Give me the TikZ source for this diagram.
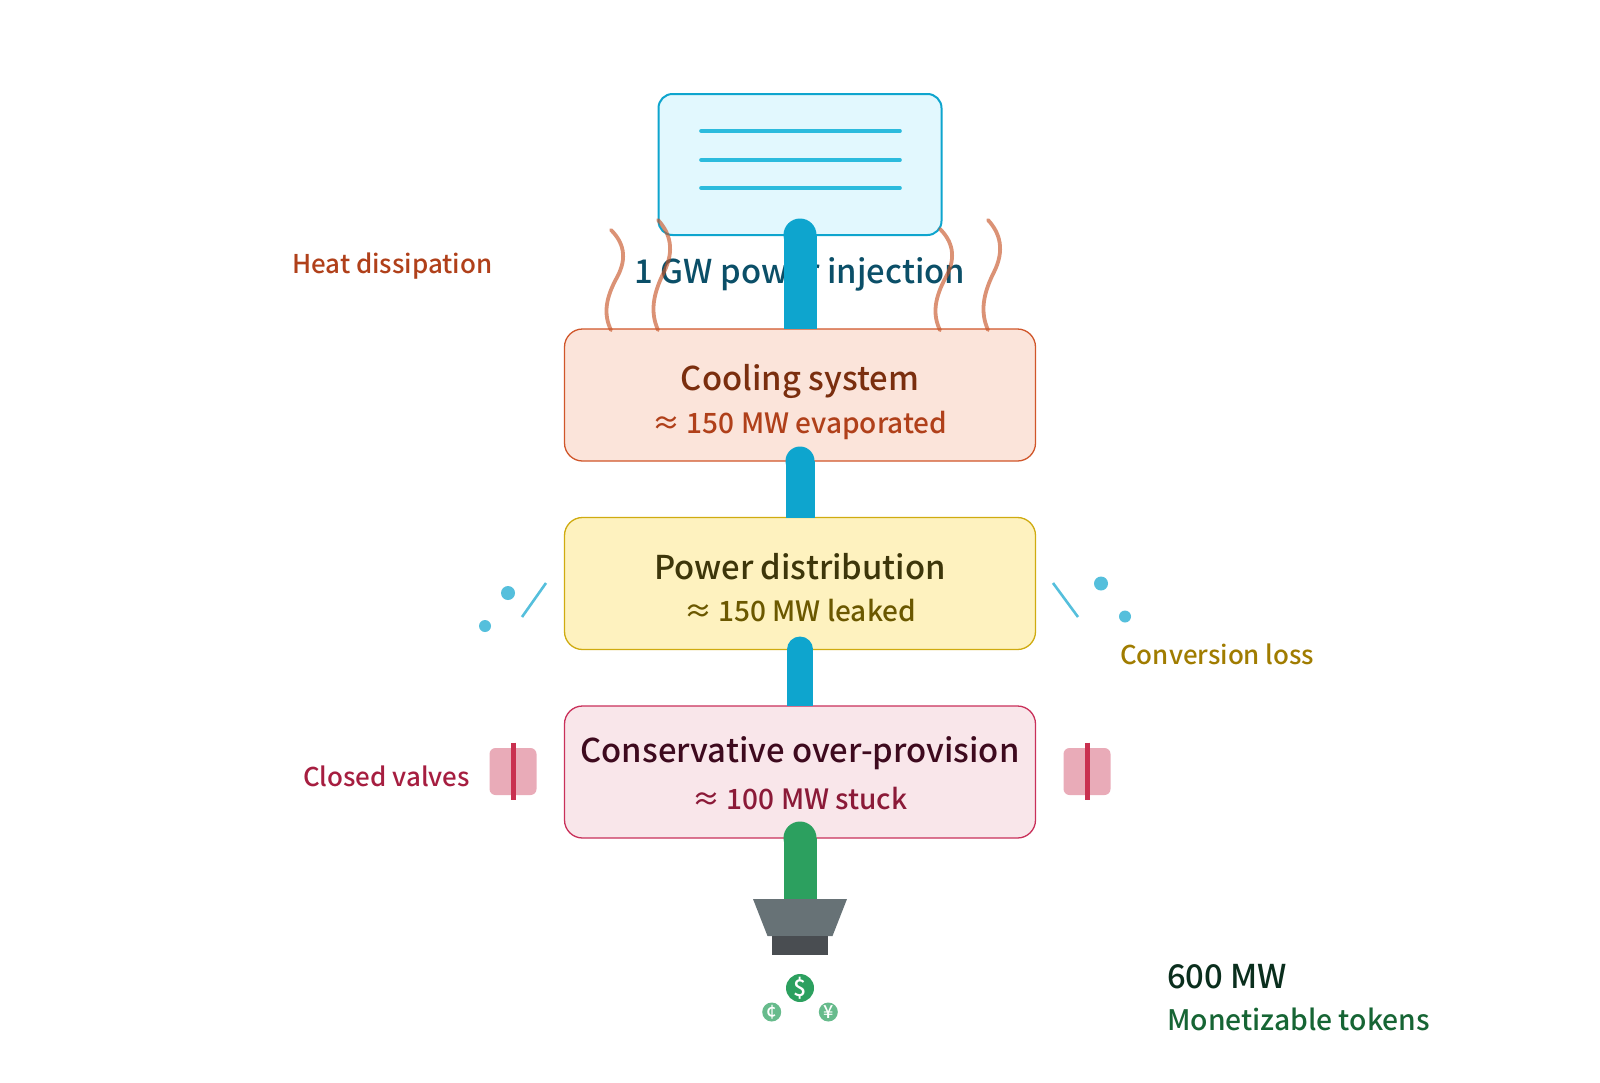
\documentclass[tikz,border=0pt]{standalone}
\usepackage{fontspec}
\setmainfont{Noto Sans CJK SC Medium}
\newfontfamily\medfont{Noto Sans CJK SC Medium}
\usetikzlibrary{positioning}
\definecolor{pipeblue}{HTML}{0EA5CE}
\definecolor{pipegreen}{HTML}{2CA05F}
\definecolor{leakblue}{HTML}{55BFDC}
\definecolor{heatline}{HTML}{C8572B}
\definecolor{valvepink}{HTML}{E9ABB8}
\definecolor{valvered}{HTML}{C93050}

\begin{document}
\begin{tikzpicture}[
        x=1pt, y=-1pt,
        stage/.style={
            rectangle,
            draw,
            rounded corners=18pt,
            minimum width=471pt,
            minimum height=132pt,
            outer sep=0pt,
            line width=1.3pt
        },
        stagetitle/.style={
            font=\fontsize{32.8}{36}\selectfont\medfont,
            inner sep=0pt
        },
        stagesub/.style={
            font=\fontsize{28}{32}\selectfont,
            inner sep=0pt
        },
        sidelabel/.style={
            font=\fontsize{25.9}{30}\selectfont,
            inner sep=0pt
        },
        pipe/.style={
            line width=#1
        },
        slat/.style={
            draw={rgb,255:red,44;green,187;blue,221},
            line width=3.6pt,
            line cap=round
        },
        heat/.style={
            draw=heatline,
            draw opacity=.65,
            line width=3.8pt,
            line cap=round
        },
        leak/.style={
            draw=leakblue,
            line width=2.6pt
        },
        drop/.style={
            circle,
            fill=leakblue,
            inner sep=0pt,
            minimum size=#1
        },
        valve/.style={
            rectangle,
            fill=valvepink,
            rounded corners=6pt,
            minimum size=47pt,
            outer sep=0pt
        },
        valvebar/.style={
            draw=valvered,
            line width=5pt
        },
        coin/.style={
            circle,
            text=white,
            inner sep=0pt,
            font=\fontsize{#1}{#1}\selectfont\medfont
        }
    ]
    \useasboundingbox (0,0) rectangle (1600,1082);

    % Injection panel
    \node[rectangle, draw=pipeblue, fill={rgb,255:red,226;green,248;blue,254}, rounded corners=14pt, line width=2pt,
          minimum width=283pt, minimum height=141pt, outer sep=0pt] (inject) at (800,164.5) {};
    \foreach \y in {131,160,188}
        \draw[slat] (701,\y) -- (900,\y);
    \node[font=\fontsize{32.8}{36}\selectfont\medfont, text={rgb,255:red,11;green,79;blue,104}, inner sep=0pt] (injectlabel) at (800,274) {1 GW power injection};

    % Stages (top to bottom)
    \node[stage, draw={rgb,255:red,208;green,86;blue,42}, fill={rgb,255:red,251;green,228;blue,218}] (cooling) at (800,395) {};
    \node[stage, draw={rgb,255:red,207;green,171;blue,16}, fill={rgb,255:red,254;green,242;blue,191}, below=56.5pt of cooling] (power) {};
    \node[stage, draw={rgb,255:red,201;green,48;blue,90}, fill={rgb,255:red,249;green,230;blue,234}, below=56.5pt of power] (provision) {};

    % Texts inside the stages
    \node[stagetitle, text={rgb,255:red,122;green,46;blue,14}] (coolingtitle) at (800,381.5) {Cooling system};
    \node[stagesub, text={rgb,255:red,176;green,64;blue,26}] (coolingsub) at (800,425) {≈ 150 MW evaporated};
    \node[stagetitle, text={rgb,255:red,61;green,54;blue,10}] (powertitle) at (800,567) {Power distribution};
    \node[stagesub, text={rgb,255:red,107;green,88;blue,0}] (powersub) at (800,611) {≈ 150 MW leaked};
    \node[stagetitle, text={rgb,255:red,62;green,10;blue,30}] (provisiontitle) at (800,753) {Conservative over-provision};
    \node[stagesub, text={rgb,255:red,139;green,26;blue,56}] (provisionsub) at (800,799) {≈ 100 MW stuck};

    % Pipes
    \draw[pipe=33pt, pipeblue] (inject.south) -- (cooling.north);
    \fill[pipeblue] (inject.south) circle (16.5pt);
    \draw[pipe=29pt, pipeblue] (cooling.south) -- (power.north);
    \fill[pipeblue] (cooling.south) circle (14.5pt);
    \draw[pipe=26pt, pipeblue] (power.south) -- (provision.north);
    \fill[pipeblue] (power.south) circle (13pt);

    % Heat
    \foreach \x/\t/\s in {611/230/.91, 658/220/1, 940/229/.92, 988/220/1}
        \draw[heat, shift={(\x,\t)}, yscale=\s] (0,0) .. controls (12,13) and (17,30) .. (6,52) .. controls (-5,74) and (-8,92) .. (0,110);

    % Leaks
    \draw[leak] (546,583) -- (522,617);
    \draw[leak] (1053,583) -- (1078,617);
    \node[drop=14pt] (dropa) at (508,593) {};
    \node[drop=12pt] (dropb) at (485,626) {};
    \node[drop=14pt] (dropc) at (1101,583.5) {};
    \node[drop=12pt] (dropd) at (1125,616.5) {};

    % Valves
    \node[valve] (valveleft) at (513,771.5) {};
    \node[valve] (valveright) at (1087,771.5) {};
    \draw[valvebar] ([yshift=29pt]valveleft.center) -- ([yshift=-28pt]valveleft.center);
    \draw[valvebar] ([yshift=29pt]valveright.center) -- ([yshift=-28pt]valveright.center);

    % Outlet
    \coordinate (funneltop) at (800,899);
    \draw[pipe=33pt, pipegreen] (provision.south) -- (funneltop);
    \fill[pipegreen] (provision.south) circle (16.5pt);
    \fill[fill={rgb,255:red,103;green,114;blue,118}] (753,899) -- (847,899) -- (832.5,936) -- (767.5,936) -- cycle;
    \node[rectangle, fill={rgb,255:red,73;green,77;blue,81}, minimum width=56.5pt, minimum height=19pt, inner sep=0pt, outer sep=0pt] (socket) at (800,945.5) {};
    \node[coin=23, fill=pipegreen, minimum size=28pt] (dollar) at (800,988) {\raisebox{-1pt}{\$}};
    \node[coin=18, fill=pipegreen!72, minimum size=19pt] (cent) at (771.7,1012) {\raisebox{-3pt}{¢}};
    \node[coin=18, fill=pipegreen!72, minimum size=19pt] (yen) at (828.3,1012) {\raisebox{-3pt}{¥}};

    % Side labels
    \node[sidelabel, anchor=west, text={rgb,255:red,176;green,64;blue,26}] (heatlabel) at (292,266.5) {Heat dissipation};
    \node[sidelabel, anchor=west, text={rgb,255:red,160;green,124;blue,0}] (convlabel) at (1120,654) {Conversion loss};
    \node[sidelabel, anchor=west, text={rgb,255:red,166;green,30;blue,64}] (valvelabel) at (303,776) {Closed valves};
    \node[font=\fontsize{32.8}{36}\selectfont\medfont, anchor=west, inner sep=0pt, text={rgb,255:red,10;green,46;blue,29}] (mwlabel) at (1167,977) {600 MW};
    \node[font=\fontsize{28.3}{32}\selectfont, anchor=west, inner sep=0pt, text={rgb,255:red,22;green,101;blue,52}] (tokenlabel) at (1167,1019) {Monetizable tokens};

\end{tikzpicture}
\end{document}
